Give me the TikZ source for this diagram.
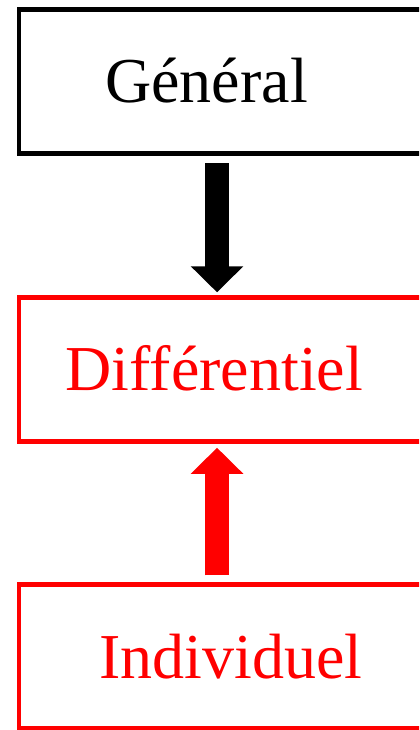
\documentclass[tikz,border=0pt]{standalone}
\usepackage{fontspec}
\setmainfont{Liberation Serif}
\usetikzlibrary{arrows.meta}

\tikzset{
	box/.style={draw, line width=3.4pt, minimum width=308.25pt, minimum height=108pt, inner sep=0pt},
	lbl/.style={anchor=base west, inner sep=0pt, font=\fontsize{48}{50}\selectfont},
	bigarrow/.style={line width=18pt, -{Triangle[length=19.5pt, width=38.25pt]}},
}

\begin{document}
\begin{tikzpicture}[x=0.75pt, y=-0.75pt]
	\useasboundingbox (0,0) rectangle (419,730);
	\clip (0,0) rectangle (419,730);
	
	% boxes
	\node[box] (gen) at (224.5,81.5) {};
	\node[box, red] (diff) at (224.5,369.5) {};
	\node[box, red] (ind) at (224.5,656.5) {};
	
	% labels
	\node[lbl] (genlbl) at (105,102.7) {Général};
	\node[lbl, red] (difflbl) at (65.5,390.7) {Différentiel};
	\node[lbl, red] (indlbl) at (99,678) {Individuel};
	
	% arrows
	\draw[bigarrow, shorten <=5.5pt, shorten >=2.2pt] ([xshift=-5.6pt]gen.south) -- ([xshift=-5.6pt]diff.north);
	\draw[bigarrow, red, shorten <=5.2pt, shorten >=3pt] ([xshift=-5.6pt]ind.north) -- ([xshift=-5.6pt]diff.south);
\end{tikzpicture}
\end{document}
